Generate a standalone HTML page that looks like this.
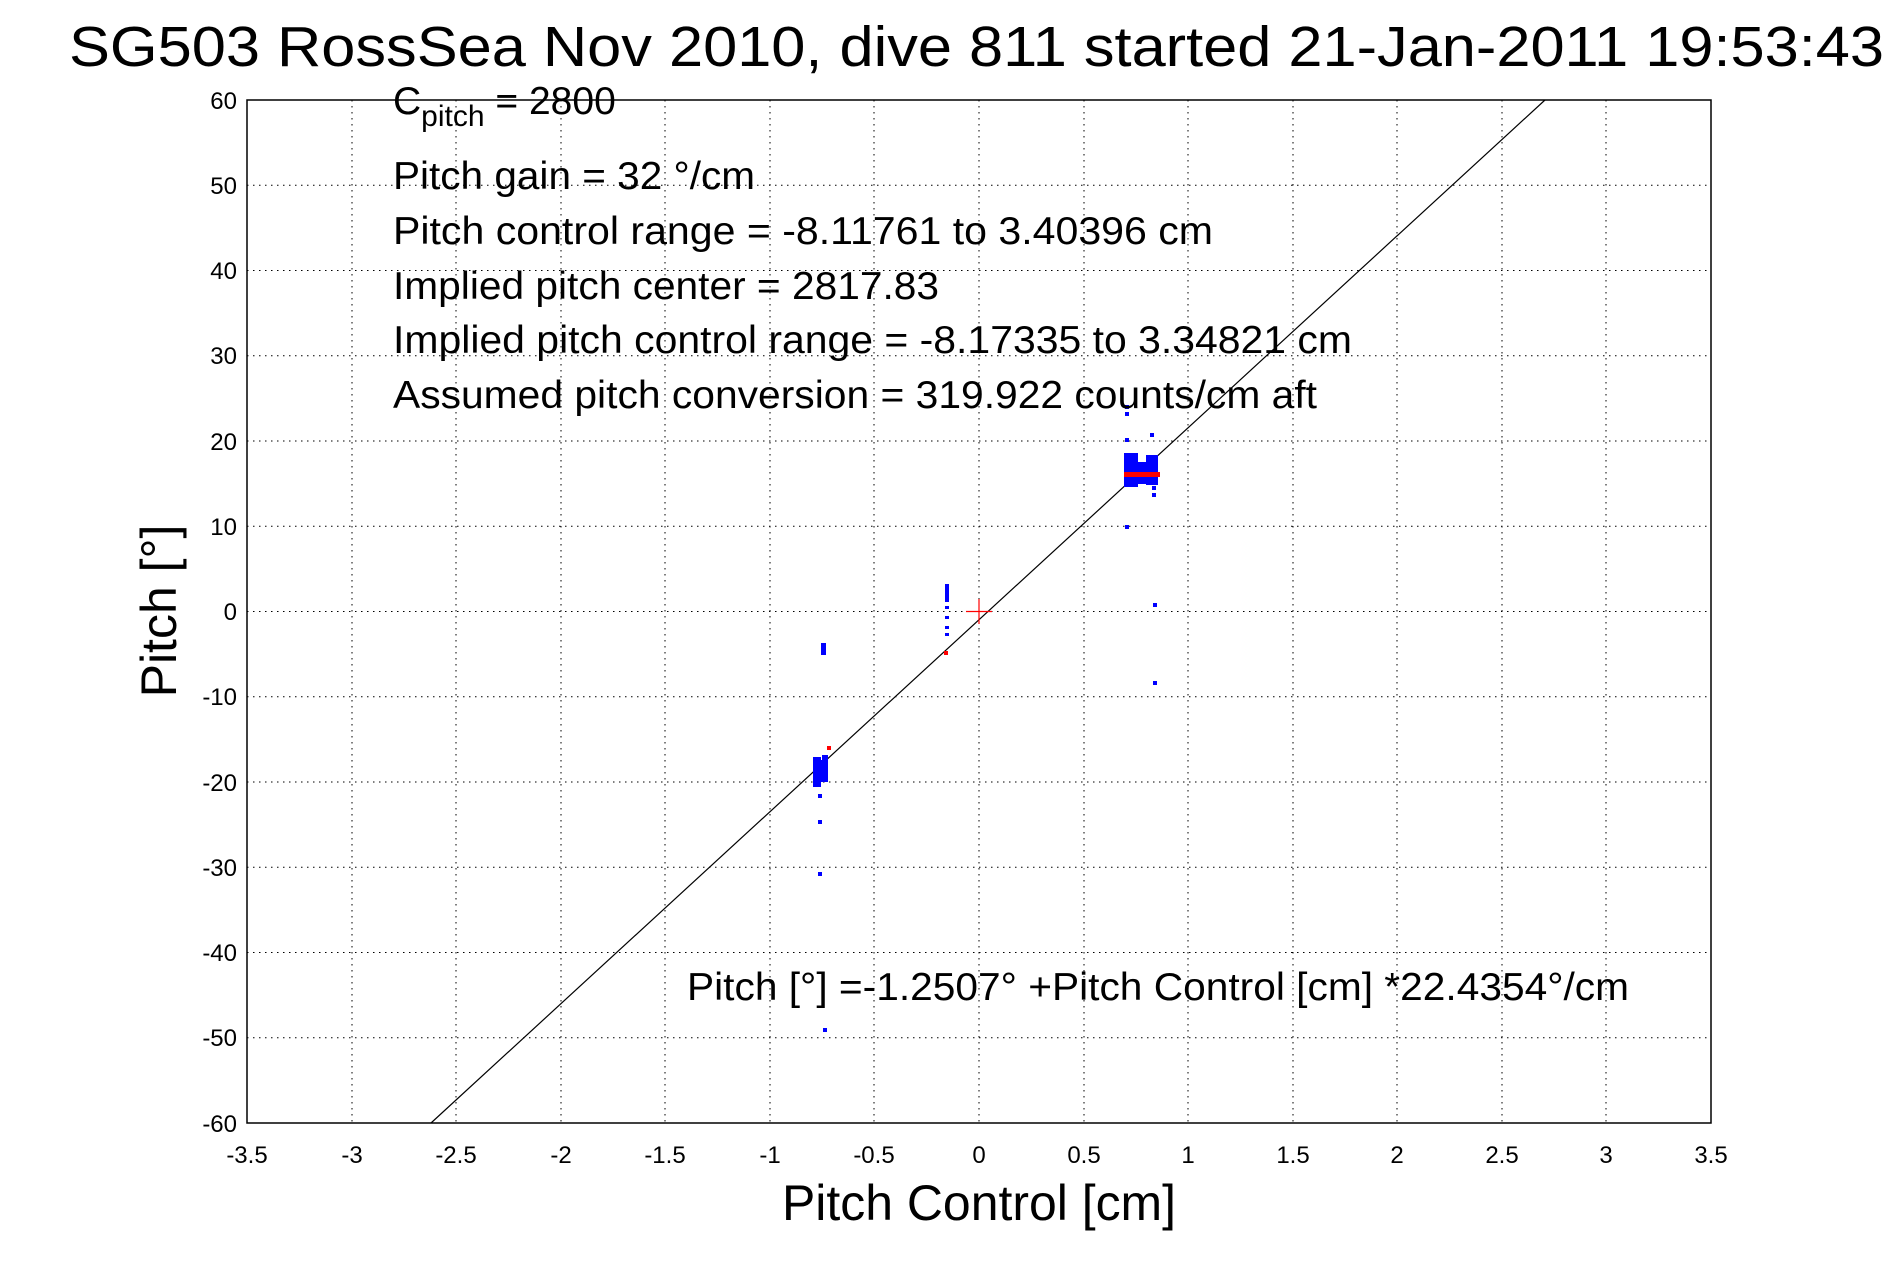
<!DOCTYPE html>
<html><head><meta charset="utf-8"><style>html,body{margin:0;padding:0;background:#fff}svg{display:block}</style></head>
<body>
<svg width="1891" height="1262" viewBox="0 0 1891 1262" xmlns="http://www.w3.org/2000/svg" font-family="Liberation Sans, sans-serif">
<rect width="1891" height="1262" fill="#fff"/>
<g stroke="#000" stroke-width="1" stroke-dasharray="1.5,4.5">
<line x1="456" y1="100" x2="456" y2="1123"/><line x1="665" y1="100" x2="665" y2="1123"/><line x1="874" y1="100" x2="874" y2="1123"/><line x1="979" y1="100" x2="979" y2="1123"/><line x1="1084" y1="100" x2="1084" y2="1123"/><line x1="1293" y1="100" x2="1293" y2="1123"/><line x1="1502" y1="100" x2="1502" y2="1123"/>
<line x1="352" y1="100" x2="352" y2="1123"/><line x1="561" y1="100" x2="561" y2="1123"/><line x1="770" y1="100" x2="770" y2="1123"/><line x1="1188" y1="100" x2="1188" y2="1123"/><line x1="1397" y1="100" x2="1397" y2="1123"/><line x1="1606" y1="100" x2="1606" y2="1123"/>
<line x1="247" y1="185.3" x2="1711" y2="185.3"/><line x1="247" y1="270.5" x2="1711" y2="270.5"/><line x1="247" y1="355.8" x2="1711" y2="355.8"/><line x1="247" y1="441" x2="1711" y2="441"/><line x1="247" y1="526.3" x2="1711" y2="526.3"/><line x1="247" y1="611.5" x2="1711" y2="611.5"/><line x1="247" y1="696.8" x2="1711" y2="696.8"/><line x1="247" y1="782" x2="1711" y2="782"/><line x1="247" y1="867.3" x2="1711" y2="867.3"/><line x1="247" y1="952.5" x2="1711" y2="952.5"/><line x1="247" y1="1037.8" x2="1711" y2="1037.8"/>
</g>
<rect x="247" y="100" width="1464" height="1023" fill="none" stroke="#000" stroke-width="1.5"/>
<g font-size="24" text-anchor="end" fill="#000">
<text x="237" y="109">60</text><text x="237" y="194">50</text><text x="237" y="279">40</text><text x="237" y="364">30</text><text x="237" y="450">20</text><text x="237" y="535">10</text><text x="237" y="620">0</text><text x="237" y="705">-10</text><text x="237" y="791">-20</text><text x="237" y="876">-30</text><text x="237" y="961">-40</text><text x="237" y="1046">-50</text><text x="237" y="1132">-60</text>
</g>
<g font-size="24" text-anchor="middle" fill="#000">
<text x="247" y="1163">-3.5</text><text x="352" y="1163">-3</text><text x="456" y="1163">-2.5</text><text x="561" y="1163">-2</text><text x="665" y="1163">-1.5</text><text x="770" y="1163">-1</text><text x="874" y="1163">-0.5</text><text x="979" y="1163">0</text><text x="1084" y="1163">0.5</text><text x="1188" y="1163">1</text><text x="1293" y="1163">1.5</text><text x="1397" y="1163">2</text><text x="1502" y="1163">2.5</text><text x="1606" y="1163">3</text><text x="1711" y="1163">3.5</text>
</g>
<line x1="431" y1="1123" x2="1545" y2="100" stroke="#000" stroke-width="1.2"/>
<g fill="#0000ff">
<rect x="821" y="643" width="5" height="12"/>
<rect x="813" y="757" width="8" height="30"/><rect x="818" y="760" width="10" height="22"/><rect x="822" y="755" width="6" height="12"/>
<rect x="818" y="794" width="4" height="4"/><rect x="818" y="820" width="4" height="4"/><rect x="818" y="872" width="4" height="4"/><rect x="823" y="1028" width="4" height="4"/>
<rect x="945" y="584" width="4" height="18"/><rect x="945" y="606" width="4" height="3"/><rect x="945" y="616" width="4" height="3"/><rect x="945" y="626" width="4" height="3"/><rect x="945" y="633" width="4" height="3"/>
<rect x="1124" y="453" width="14" height="34"/><rect x="1136" y="462" width="12" height="22"/><rect x="1146" y="455" width="12" height="30"/>
<rect x="1125" y="405" width="4" height="4"/><rect x="1125" y="412" width="4" height="4"/><rect x="1125" y="438" width="4" height="4"/><rect x="1125" y="525" width="4" height="4"/><rect x="1150" y="433" width="4" height="4"/><rect x="1152" y="486" width="4" height="4"/><rect x="1152" y="493" width="4" height="4"/><rect x="1153" y="603" width="4" height="4"/><rect x="1153" y="681" width="4" height="4"/>
</g>
<g fill="#ff0000">
<rect x="827" y="746" width="4" height="4"/><rect x="944" y="651" width="4" height="4"/>
<rect x="1124" y="472" width="36" height="5"/>
</g>
<g stroke="#ff0000" stroke-width="1.2"><line x1="966" y1="611.5" x2="992" y2="611.5"/><line x1="979" y1="599" x2="979" y2="624"/></g>
<g font-size="39" fill="#000">
<text x="393" y="114">C<tspan font-size="30" dy="12">pitch</tspan><tspan dy="-12"> = 2800</tspan></text>
<text x="393" y="189" textLength="362" lengthAdjust="spacingAndGlyphs">Pitch gain = 32 °/cm</text>
<text x="393" y="244" textLength="820" lengthAdjust="spacingAndGlyphs">Pitch control range = -8.11761 to 3.40396 cm</text>
<text x="393" y="299" textLength="546" lengthAdjust="spacingAndGlyphs">Implied pitch center = 2817.83</text>
<text x="393" y="353" textLength="959" lengthAdjust="spacingAndGlyphs">Implied pitch control range = -8.17335 to 3.34821 cm</text>
<text x="393" y="408" textLength="924" lengthAdjust="spacingAndGlyphs">Assumed pitch conversion = 319.922 counts/cm aft</text>
<text x="687" y="1000" textLength="942" lengthAdjust="spacingAndGlyphs">Pitch [°] =-1.2507° +Pitch Control [cm] *22.4354°/cm</text>
</g>
<text x="69" y="66" font-size="57" textLength="1815" lengthAdjust="spacingAndGlyphs">SG503 RossSea Nov 2010, dive 811 started 21-Jan-2011 19:53:43</text>
<text x="979" y="1220" font-size="50" text-anchor="middle" textLength="394" lengthAdjust="spacingAndGlyphs">Pitch Control [cm]</text>
<text transform="translate(176,611) rotate(-90)" font-size="50" text-anchor="middle">Pitch [°]</text>
</svg>
</body></html>
